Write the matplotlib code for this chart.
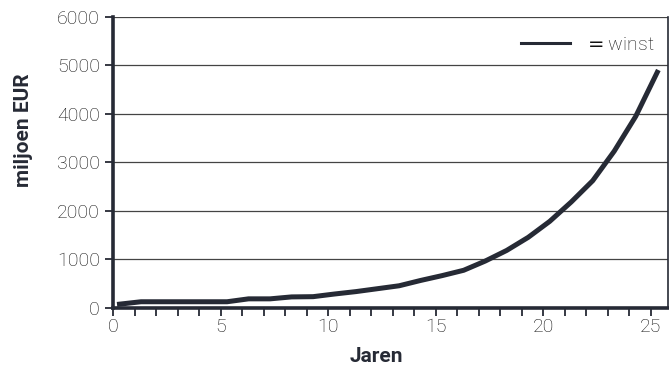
import matplotlib
matplotlib.use("Agg")
import matplotlib.pyplot as plt
from matplotlib.lines import Line2D
from matplotlib.ticker import MultipleLocator

# ---- data --------------------------------------------------------------
jaren = [0.3, 1.3, 2.3, 3.3, 4.3, 5.3, 6.3, 7.3, 8.3, 9.3, 10.3, 11.3, 12.3,
         13.3, 14.3, 15.3, 16.3, 17.3, 18.3, 19.3, 20.3, 21.3, 22.3, 23.3,
         24.3, 25.3]
winst = [70, 120, 120, 120, 120, 120, 180, 180, 220, 225, 280, 330, 390,
         450, 560, 660, 770, 960, 1180, 1450, 1780, 2180, 2620, 3230,
         3950, 4860]
x_ticks = [0, 5, 10, 15, 20, 25]
y_ticks = [0, 1000, 2000, 3000, 4000, 5000, 6000]

plt.rcParams["font.family"] = ["Roboto", "DejaVu Sans"]

DARK = "#262a35"
GREY = "#111111"

fig = plt.figure(figsize=(6.69, 3.71), dpi=100)
ax = fig.add_axes([0.169, 0.171, 0.8295, 0.783])

ax.plot(jaren, winst, color=DARK, lw=3.6, solid_joinstyle="miter", zorder=3)

ax.set_xlim(0, 25.8)
ax.set_ylim(0, 6000)
ax.set_xticks(x_ticks)
ax.xaxis.set_minor_locator(MultipleLocator(1))
ax.set_yticks(y_ticks)

ax.grid(axis="y", color="#444444", lw=0.9)
ax.set_axisbelow(True)

for side in ("left", "bottom"):
    ax.spines[side].set_linewidth(2.6)
    ax.spines[side].set_color(DARK)
ax.spines["right"].set_linewidth(1.2)
ax.spines["right"].set_color(DARK)
ax.spines["top"].set_visible(False)

ax.tick_params(axis="both", which="both", direction="out", length=5.5,
               width=1.3, color=DARK, labelcolor=GREY, labelsize=14)
ax.tick_params(axis="y", pad=4)
ax.tick_params(axis="x", pad=2)
for lab in ax.get_xticklabels() + ax.get_yticklabels():
    lab.set_fontweight("light")

ax.set_xlabel("Jaren", fontsize=15, fontweight="bold", color=DARK,
              labelpad=8)
ax.xaxis.label.set_x(0.474)
ax.set_ylabel("miljoen EUR", fontsize=15, fontweight="bold", color=DARK,
              labelpad=17)
ax.yaxis.label.set_y(0.61)

handle = Line2D([], [], color=DARK, lw=2.2)
leg = ax.legend([handle], ["$=$winst"], loc="upper right",
                bbox_to_anchor=(0.997, 0.976), frameon=False, fontsize=14,
                handlelength=2.5, handletextpad=0.75, borderaxespad=0.2,
                labelcolor=GREY)
for t in leg.get_texts():
    t.set_fontweight("light")

fig.savefig("out.png", dpi=100)
